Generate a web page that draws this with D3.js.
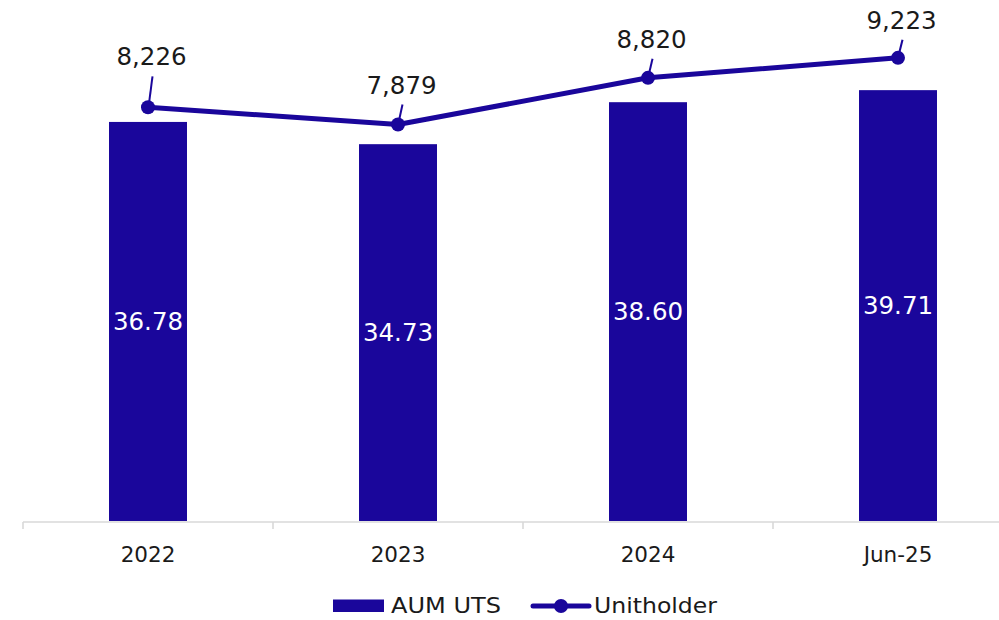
<!DOCTYPE html>
<html>
<head>
<meta charset="utf-8">
<script src="https://cdn.jsdelivr.net/npm/d3@7"></script>
<style>
  html, body { margin: 0; padding: 0; background: #ffffff; }
  svg { display: block; font-family: "DejaVu Sans", sans-serif; }
</style>
</head>
<body>
<svg id="chart" width="999" height="620"></svg>
<script>
// Chart data
const categories = ["2022", "2023", "2024", "Jun-25"];
const aumUts = [36.78, 34.73, 38.60, 39.71];
const unitholders = [8226, 7879, 8820, 9223];
const legendLabels = ["AUM UTS", "Unitholder"];

// Vertical distance of each unitholder label baseline above its point
const labelLift = [42, 31, 30, 29];

const navy = "#1a069b";
const svg = d3.select("#chart");

const baseY = 521;
const x = d3.scaleBand().domain(categories).range([23, 1023]).padding(0);
const yBar = d3.scaleLinear().domain([0, 45]).range([baseY, baseY - 45 * 10.85]);
const yLine = d3.scaleLinear().domain([0, 10000]).range([515.3, 515.3 - 10000 * 0.0496]);

const barW = x.bandwidth() * 0.312;
const cx = c => x(c) + x.bandwidth() / 2;

// Bars
svg.append("g").selectAll("rect")
  .data(categories)
  .join("rect")
  .attr("x", (d) => cx(d) - barW / 2)
  .attr("y", (d, i) => yBar(aumUts[i]))
  .attr("width", barW)
  .attr("height", (d, i) => yBar(0) - yBar(aumUts[i]))
  .attr("fill", navy);

// Bar value labels, centred inside each bar
svg.append("g").selectAll("text")
  .data(categories)
  .join("text")
  .attr("x", d => cx(d))
  .attr("y", (d, i) => (yBar(aumUts[i]) + yBar(0)) / 2)
  .attr("dy", "0.36em")
  .attr("text-anchor", "middle")
  .attr("fill", "#ffffff")
  .attr("font-size", 24.5)
  .text((d, i) => aumUts[i].toFixed(2));

// Category axis
const axisG = svg.append("g");
axisG.append("line")
  .attr("x1", x.range()[0]).attr("x2", 999)
  .attr("y1", baseY + 1).attr("y2", baseY + 1)
  .attr("stroke", "#d9d9d9").attr("stroke-width", 1.6);
axisG.selectAll("line.tick")
  .data(categories)
  .join("line")
  .attr("class", "tick")
  .attr("x1", d => x(d)).attr("x2", d => x(d))
  .attr("y1", baseY + 1).attr("y2", baseY + 8)
  .attr("stroke", "#d9d9d9").attr("stroke-width", 1.6);
axisG.selectAll("text")
  .data(categories)
  .join("text")
  .attr("x", d => cx(d))
  .attr("y", 561.5)
  .attr("text-anchor", "middle")
  .attr("fill", "#1a1a1a")
  .attr("font-size", 21.5)
  .text(d => d);

// Unitholder line
const line = d3.line()
  .x((d, i) => cx(categories[i]))
  .y(d => yLine(d));
svg.append("path")
  .datum(unitholders)
  .attr("d", line)
  .attr("fill", "none")
  .attr("stroke", navy)
  .attr("stroke-width", 5)
  .attr("stroke-linejoin", "round");

// Leader lines from labels to points
svg.append("g").selectAll("line")
  .data(unitholders)
  .join("line")
  .attr("x1", (d, i) => cx(categories[i]) + 4.5)
  .attr("y1", (d, i) => yLine(d) - labelLift[i] + 11)
  .attr("x2", (d, i) => cx(categories[i]) + 1)
  .attr("y2", (d, i) => yLine(d) - 4)
  .attr("stroke", navy)
  .attr("stroke-width", 2);

svg.append("g").selectAll("circle")
  .data(unitholders)
  .join("circle")
  .attr("cx", (d, i) => cx(categories[i]))
  .attr("cy", d => yLine(d))
  .attr("r", 7)
  .attr("fill", navy);

svg.append("g").selectAll("text")
  .data(unitholders)
  .join("text")
  .attr("x", (d, i) => cx(categories[i]) + 3.5)
  .attr("y", (d, i) => yLine(d) - labelLift[i])
  .attr("text-anchor", "middle")
  .attr("fill", "#1a1a1a")
  .attr("font-size", 24.5)
  .text(d => d3.format(",")(d));

// Legend
const lg = svg.append("g");
lg.append("rect")
  .attr("x", 333).attr("y", 599.5).attr("width", 51).attr("height", 12.5)
  .attr("fill", navy);
lg.append("text")
  .attr("x", 391).attr("y", 612.5)
  .attr("fill", "#1a1a1a").attr("font-size", 21)
  .attr("textLength", 110).attr("lengthAdjust", "spacingAndGlyphs")
  .text(legendLabels[0]);
lg.append("line")
  .attr("x1", 533).attr("x2", 589).attr("y1", 606).attr("y2", 606)
  .attr("stroke", navy).attr("stroke-width", 5).attr("stroke-linecap", "round");
lg.append("circle")
  .attr("cx", 561).attr("cy", 606).attr("r", 7).attr("fill", navy);
lg.append("text")
  .attr("x", 594).attr("y", 612.5)
  .attr("fill", "#1a1a1a").attr("font-size", 21)
  .attr("textLength", 123).attr("lengthAdjust", "spacingAndGlyphs")
  .text(legendLabels[1]);
</script>
</body>
</html>
